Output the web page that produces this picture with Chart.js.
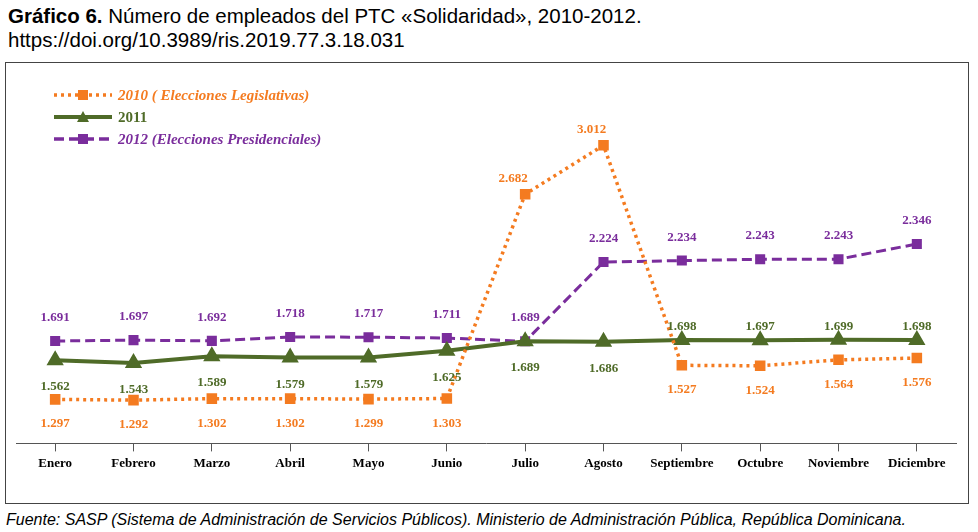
<!DOCTYPE html>
<html>
<head>
<meta charset="utf-8">
<script src="https://cdn.jsdelivr.net/npm/chart.js@4"></script>
<style>
  body { margin: 0; width: 978px; height: 532px; background: #fff; font-family: "Liberation Sans", Arial, sans-serif; position: relative; overflow: hidden; }
  #title { position: absolute; left: 8px; top: 4px; font-size: 20.5px; line-height: 24px; color: #000; }
  #box { position: absolute; left: 5px; top: 62px; width: 964px; height: 442px; border: 1px solid #444; box-sizing: border-box; }
  #box canvas { display: block; }
  #foot { position: absolute; left: 6px; top: 511px; font-size: 16px; font-style: italic; color: #000; }
</style>
</head>
<body>
<div id="title"><b>Gráfico 6.</b> Número de empleados del PTC «Solidaridad», 2010-2012.<br>https://doi.org/10.3989/ris.2019.77.3.18.031</div>
<div id="box"><canvas id="c" width="962" height="440"></canvas></div>
<div id="foot">Fuente: SASP (Sistema de Administración de Servicios Públicos). Ministerio de Administración Pública, República Dominicana.</div>
<script>
/* -------- DATA -------- */
const months = ["Enero", "Febrero", "Marzo", "Abril", "Mayo", "Junio", "Julio", "Agosto", "Septiembre", "Octubre", "Noviembre", "Diciembre"];
const y2010 = [1.297, 1.292, 1.302, 1.302, 1.299, 1.303, 2.682, 3.012, 1.527, 1.524, 1.564, 1.576];
const y2011 = [1.562, 1.543, 1.589, 1.579, 1.579, 1.625, 1.689, 1.686, 1.698, 1.697, 1.699, 1.698];
const y2012 = [1.691, 1.697, 1.692, 1.718, 1.717, 1.711, 1.689, 2.224, 2.234, 2.243, 2.243, 2.346];
const seriesNames = ["2010 ( Elecciones Legislativas)", "2011", "2012 (Elecciones Presidenciales)"];

const ORANGE = "#f47b20", GREEN = "#4f6b28", PURPLE = "#7a2d9c";
const fmt = v => v.toFixed(3);

// value labels + custom legend
const labelPlugin = {
  id: "labels",
  afterDatasetsDraw(chart) {
    const ctx = chart.ctx;
    ctx.save();
    ctx.font = "bold 13px 'Liberation Serif', serif";
    ctx.textAlign = "center";
    chart.data.datasets.forEach((ds, di) => {
      chart.getDatasetMeta(di).data.forEach((pt, i) => {
        let dy, dx = 0;
        if (di === 0) { dy = (i === 6 || i === 7) ? -12 : 28; if (i === 6 || i === 7) dx = -12; }
        else if (di === 1) dy = i < 8 ? 30 : -10;
        else dy = -20;
        ctx.fillStyle = ds.borderColor;
        ctx.fillText(fmt(ds.data[i]), pt.x + dx, pt.y + dy);
      });
    });
    // legend
    const items = [[ORANGE, [3, 4], "rect"], [GREEN, [], "triangle"], [PURPLE, [10, 5], "rect"]];
    items.forEach((it, k) => {
      const y = 32 + k * 22;
      ctx.strokeStyle = it[0];
      ctx.lineWidth = it[2] === "triangle" ? 4 : 3.5;
      ctx.setLineDash(it[1]);
      ctx.beginPath(); ctx.moveTo(48, y); ctx.lineTo(106, y); ctx.stroke();
      ctx.setLineDash([]);
      ctx.fillStyle = it[0];
      if (it[2] === "rect") ctx.fillRect(72, y - 5, 10, 10);
      else { ctx.beginPath(); ctx.moveTo(77, y - 6); ctx.lineTo(83, y + 5); ctx.lineTo(71, y + 5); ctx.fill(); }
      ctx.font = (k === 1 ? "bold " : "italic bold ") + "15px 'Liberation Serif', serif";
      ctx.textAlign = "left";
      ctx.fillText(seriesNames[k], 112, y + 5);
    });
    ctx.restore();
  }
};

new Chart(document.getElementById("c"), {
  type: "line",
  data: {
    labels: months,
    datasets: [
      { data: y2010, borderColor: ORANGE, backgroundColor: ORANGE, borderWidth: 3.5, borderDash: [3, 4], pointStyle: "rect", pointRadius: 5 },
      { data: y2011, borderColor: GREEN, backgroundColor: GREEN, borderWidth: 4, pointStyle: "triangle", pointRadius: 6 },
      { data: y2012, borderColor: PURPLE, backgroundColor: PURPLE, borderWidth: 3, borderDash: [10, 5], pointStyle: "rect", pointRadius: 5 }
    ]
  },
  options: {
    responsive: false,
    animation: false,
    devicePixelRatio: 1,
    layout: { padding: { left: 10, right: 12, top: 4, bottom: 28 } },
    plugins: { legend: { display: false }, tooltip: { enabled: false } },
    scales: {
      x: {
        offset: true,
        border: { color: "#555", width: 1 },
        grid: { drawOnChartArea: false, drawTicks: true, tickLength: 8, color: "#555" },
        ticks: { color: "#000", font: { family: "'Liberation Serif', serif", weight: "bold", size: 13 }, maxRotation: 0, padding: 4 }
      },
      y: { display: false, min: 1.0, max: 3.5 }
    }
  },
  plugins: [labelPlugin]
});
</script>
</body>
</html>
